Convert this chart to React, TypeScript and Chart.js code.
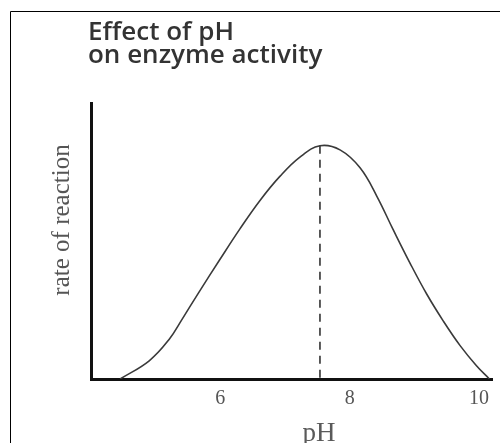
import React, { useEffect, useRef } from "react";
import Chart from "chart.js/auto";

const titleLines = ["Effect of pH", "on enzyme activity"];
const yAxisTitle = "rate of reaction";
const xAxisTitle = "pH";

const phValues = [4.45, 4.9, 5.21, 5.41, 5.67, 5.99, 6.3, 6.61, 6.92, 7.23, 7.54, 7.85, 8.16, 8.42, 8.67, 8.93, 9.19, 9.45, 9.71, 9.96, 10.16];
const rateValues = [0, 6.6, 14.4, 21.7, 31.5, 43.2, 54.3, 64.6, 73.4, 80.4, 84.5, 83.0, 76.5, 66.2, 54.2, 42.1, 30.8, 20.9, 12.0, 4.8, 0];

const optimumPh = 7.54;
const optimumRate = 84.5;

const xTickValues = [6, 8, 10];
const xMin = 4;
const xMax = 10.2;
const yMin = 0;
const yMax = 100;

const decorPlugin = {
  id: "decor",
  afterDraw(chart: any) {
    const ctx = chart.ctx;
    const area = chart.chartArea;
    ctx.save();
    // frame (left and top edges)
    ctx.strokeStyle = "#000";
    ctx.lineWidth = 1;
    ctx.beginPath();
    ctx.moveTo(10.5, 443);
    ctx.lineTo(10.5, 11.5);
    ctx.lineTo(500, 11.5);
    ctx.stroke();

    // title
    ctx.fillStyle = "#333";
    ctx.font = "600 26px 'Open Sans'";
    ctx.textAlign = "left";
    ctx.textBaseline = "alphabetic";
    ctx.fillText(titleLines[0], area.left - 3, 40);
    ctx.fillText(titleLines[1], area.left - 3, 63);

    // y axis title
    ctx.save();
    ctx.translate(62, 220);
    ctx.rotate(-Math.PI / 2);
    ctx.fillStyle = "#555";
    ctx.font = "25px 'Liberation Serif'";
    ctx.textAlign = "center";
    ctx.textBaseline = "middle";
    ctx.fillText(yAxisTitle, 0, 0);
    ctx.restore();

    // x axis title
    ctx.fillStyle = "#5a5a5a";
    ctx.font = "27px 'Liberation Serif'";
    ctx.textAlign = "center";
    ctx.textBaseline = "alphabetic";
    const xs = chart.scales.x;
    ctx.fillText(xAxisTitle, xs.getPixelForValue(optimumPh) - 1, 441);
    ctx.restore();
  },
};

export default function App() {
  const canvasRef = useRef<HTMLCanvasElement | null>(null);

  useEffect(() => {
    if (!canvasRef.current) return;
    const curve = phValues.map((x, i) => ({ x, y: rateValues[i] }));
    const chart = new Chart(canvasRef.current, {
      type: "line",
      data: {
        datasets: [
          {
            data: curve,
            borderColor: "#3a3a3a",
            borderWidth: 1.6,
            pointRadius: 0,
            tension: 0.4,
            fill: false,
          },
          {
            data: [
              { x: optimumPh, y: optimumRate },
              { x: optimumPh, y: 0 },
            ],
            borderColor: "#333",
            borderWidth: 1.6,
            borderDash: [8, 6],
            pointRadius: 0,
            fill: false,
          },
        ],
      },
      options: {
        responsive: false,
        animation: false,
        layout: { padding: { left: 91, right: 8, top: 103, bottom: 24 } },
        plugins: {
          legend: { display: false },
          tooltip: { enabled: false },
          title: { display: false },
        },
        scales: {
          x: {
            type: "linear",
            min: xMin,
            max: xMax,
            afterBuildTicks: (axis: any) => {
              axis.ticks = xTickValues.map((v) => ({ value: v }));
            },
            grid: { display: false, drawTicks: false },
            border: { display: true, width: 3, color: "#111" },
            ticks: {
              color: "#555",
              font: { family: "'Liberation Serif'", size: 20 },
              padding: 8,
              maxRotation: 0,
              callback: (v: any) => String(v),
            },
          },
          y: {
            type: "linear",
            min: yMin,
            max: yMax,
            grid: { display: false, drawTicks: false },
            border: { display: true, width: 3, color: "#111" },
            ticks: { display: false },
          },
        },
      },
      plugins: [decorPlugin],
    } as any);
    return () => chart.destroy();
  }, []);

  return (
    <div style={{ position: "absolute", left: 0, top: 0, width: 500, height: 443, background: "#fff" }}>
      <canvas ref={canvasRef} width={500} height={443} style={{ display: "block" }} />
    </div>
  );
}
